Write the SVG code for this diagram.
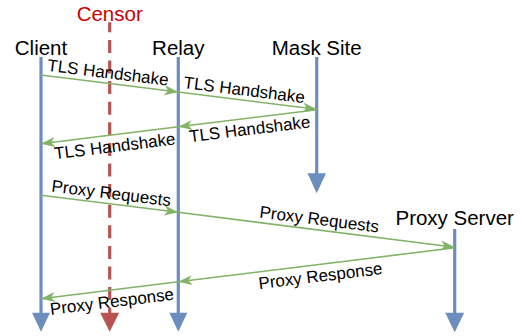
<svg xmlns="http://www.w3.org/2000/svg" width="522" height="336" viewBox="0 0 522 336">
<style>
  .title { font-family: "Liberation Sans", Arial, sans-serif; font-size: 20.5px; fill: #000; text-anchor: middle; }
  .censor { fill: #CC0000; }
  .lbl { font-family: "Liberation Sans", Arial, sans-serif; font-size: 17px; fill: #000; text-anchor: middle; }
  .life { stroke: #6C8EBF; stroke-width: 3.2; fill: none; }
  .msg { stroke: #82B366; stroke-width: 1.6; fill: none; marker-end: url(#ga); }
</style>
<defs>
  <marker id="ga" markerUnits="userSpaceOnUse" markerWidth="15" markerHeight="11" refX="14" refY="5.5" orient="auto">
    <path d="M0,0.5 L14,5.5 L0,10.5 L3.8,5.5 Z" fill="#82B366"/>
  </marker>
</defs>
<rect width="522" height="336" fill="#fff"/>

<g id="client">
  <text class="title" x="41" y="54.5">Client</text>
  <line class="life" x1="41" y1="57" x2="41" y2="314"/>
  <polygon points="32,312.7 50,312.7 41,331.8" fill="#6C8EBF"/>
</g>
<g id="censor">
  <text class="title censor" x="109.7" y="21">Censor</text>
  <line x1="109.7" y1="22.3" x2="109.7" y2="314" stroke="#B85450" stroke-width="3.2" stroke-dasharray="13 7.6" stroke-dashoffset="3"/>
  <polygon points="100.2,312.7 119.2,312.7 109.7,331.8" fill="#B85450"/>
</g>
<g id="relay">
  <text class="title" x="178.3" y="54.5">Relay</text>
  <line class="life" x1="178.3" y1="57" x2="178.3" y2="314"/>
  <polygon points="169.3,312.7 187.3,312.7 178.3,331.8" fill="#6C8EBF"/>
</g>
<g id="mask-site">
  <text class="title" x="316.7" y="54.5">Mask Site</text>
  <line class="life" x1="316.7" y1="57" x2="316.7" y2="175"/>
  <polygon points="307.5,173.3 326,173.3 316.7,193.3" fill="#6C8EBF"/>
</g>
<g id="proxy-server">
  <text class="title" x="454.7" y="225">Proxy Server</text>
  <line class="life" x1="454.7" y1="229" x2="454.7" y2="314"/>
  <polygon points="445.2,312.7 464.2,312.7 454.7,332.3" fill="#6C8EBF"/>
</g>

<g id="connectors">
  <line class="msg" x1="41" y1="75" x2="178.3" y2="92"/>
  <line class="msg" x1="178.3" y1="92" x2="316.7" y2="109.3"/>
  <line class="msg" x1="316.7" y1="109.8" x2="178.3" y2="126.8"/>
  <line class="msg" x1="178.3" y1="126.8" x2="41" y2="143.8"/>
  <line class="msg" x1="41" y1="195.3" x2="178.3" y2="212.3"/>
  <line class="msg" x1="178.3" y1="212.3" x2="454.7" y2="247.3"/>
  <line class="msg" x1="454.7" y1="247.8" x2="178.3" y2="281.8"/>
  <line class="msg" x1="178.3" y1="281.8" x2="41" y2="298.8"/>

  <text class="lbl" transform="translate(106.7,83.2) rotate(7.07)" y="-5">TLS Handshake</text>
  <text class="lbl" transform="translate(243,100) rotate(7.1)" y="-4.5">TLS Handshake</text>
  <text class="lbl" transform="translate(248.4,118.4) rotate(-7)" y="16.5">TLS Handshake</text>
  <text class="lbl" transform="translate(113.4,135) rotate(-7.07)" y="17">TLS Handshake</text>
  <text class="lbl" transform="translate(110,203.9) rotate(7.07)" y="-5">Proxy Requests</text>
  <text class="lbl" transform="translate(318,230) rotate(7.2)" y="-5">Proxy Requests</text>
  <text class="lbl" transform="translate(319,264.7) rotate(-7)" y="17">Proxy Response</text>
  <text class="lbl" transform="translate(110.5,290.4) rotate(-7.07)" y="17">Proxy Response</text>
</g>
</svg>
